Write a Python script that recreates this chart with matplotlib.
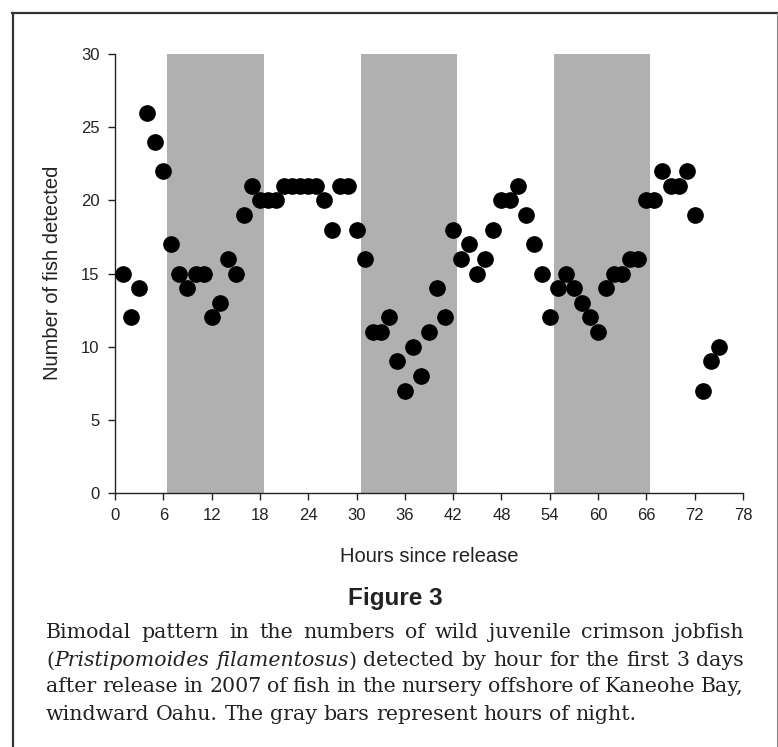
import os
import numpy as np
import matplotlib.pyplot as plt
import matplotlib.font_manager as fm
from matplotlib.lines import Line2D

# Daten: Anzahl detektierter Fische pro Stunde nach Freilassung
hours = list(range(1, 76))
fish = [15, 12, 14, 26, 24, 22, 17, 15, 14, 15,
        15, 12, 13, 16, 15, 19, 21, 20, 20, 20,
        21, 21, 21, 21, 21, 20, 18, 21, 21, 18,
        16, 11, 11, 12, 9, 7, 10, 8, 11, 14,
        12, 18, 16, 17, 15, 16, 18, 20, 20, 21,
        19, 17, 15, 12, 14, 15, 14, 13, 12, 11,
        14, 15, 15, 16, 16, 20, 20, 22, 21, 21,
        22, 19, 7, 9, 10]

# Nachtstunden (graue Balken)
night_start = [6.5, 30.5, 54.5]
night_end = [18.5, 42.5, 66.5]

x_ticks = list(range(0, 79, 6))
y_ticks = list(range(0, 31, 5))

caption_lines = [
    [("Bimodal pattern in the numbers of wild juvenile crimson jobfish", "normal")],
    [("(", "normal"), ("Pristipomoides filamentosus", "italic"),
     (") detected by hour for the first 3 days", "normal")],
    [("after release in 2007 of fish in the nursery offshore of Kaneohe Bay,", "normal")],
    [("windward Oahu. The gray bars represent hours of night.", "normal")],
]


def font(fname, fallback, size, weight="normal"):
    """Schriftdatei direkt suchen (sonst landet man evtl. bei 'Narrow')."""
    for f in fm.findSystemFonts():
        if os.path.basename(f).lower() == fname.lower():
            return fm.FontProperties(fname=f, size=size)
    return fm.FontProperties(family=fallback, size=size, weight=weight)


fp_tick = font("LiberationSans-Regular.ttf", "DejaVu Sans", 12)
fp_lab = font("LiberationSans-Regular.ttf", "DejaVu Sans", 14.5)
fp_fig = font("LiberationSans-Bold.ttf", "DejaVu Sans", 17.5, "bold")

W, H = 778, 747
fig = plt.figure(figsize=(W / 100, H / 100), dpi=100)
ax = fig.add_axes([115 / W, 1 - 493 / H, (743 - 115) / W, (493 - 54) / H])

for a, b in zip(night_start, night_end):
    ax.axvspan(a, b, ymin=0, ymax=1, color="#b0b0b0", lw=0, zorder=0)

ax.plot(hours, fish, "o", color="black", ms=11, zorder=3, clip_on=False)

ax.set_xlim(0, 78)
ax.set_ylim(0, 30)
ax.set_xticks(x_ticks)
ax.set_yticks(y_ticks)
ax.set_xticklabels([str(v) for v in x_ticks], fontproperties=fp_tick)
ax.set_yticklabels([str(v) for v in y_ticks], fontproperties=fp_tick)
for s in ("top", "right"):
    ax.spines[s].set_visible(False)
for s in ("left", "bottom"):
    ax.spines[s].set_linewidth(1.0)
    ax.spines[s].set_color("#222222")
ax.tick_params(direction="out", length=5, width=1.0, color="#222222",
               labelcolor="#222222", pad=6)

fig.text(53 / W, 1 - 273 / H, "Number of fish detected", rotation=90,
         ha="center", va="center", fontproperties=fp_lab, color="#222222")
fig.text(429 / W, 1 - 557 / H, "Hours since release", ha="center", va="center",
         fontproperties=fp_lab, color="#222222")
fig.text(395 / W, 1 - 598 / H, "Figure 3", ha="center", va="center",
         fontproperties=fp_fig, color="#222222")

# Rahmen
fig.add_artist(Line2D([12 / W, 1], [1 - 12.5 / H] * 2, color="#333333", lw=1.6))
fig.add_artist(Line2D([12.5 / W] * 2, [0, 1 - 12.5 / H], color="#333333", lw=1.6))
fig.add_artist(Line2D([776.5 / W] * 2, [0, 1 - 12.5 / H], color="#888888", lw=0.8))

# Bildunterschrift im Blocksatz
fig.canvas.draw()
renderer = fig.canvas.get_renderer()
left_px, right_px = 46, 744
line_y = [633, 661, 687, 714]
cap_kw = dict(fontsize=14.8, family="DejaVu Serif", color="#222222", va="center")


def width_of(txt, style):
    t = fig.text(0, 0, txt, style=style, **cap_kw)
    w = t.get_window_extent(renderer).width
    t.remove()
    return w


space = width_of("a b", "normal") - width_of("ab", "normal")

for i, segs in enumerate(caption_lines):
    words = []
    for txt, style in segs:
        parts = txt.split(" ")
        for j, p in enumerate(parts):
            if p == "":
                continue
            glue = (j == 0 and words and not txt.startswith(" "))
            words.append([p, style, glue])
    groups = []
    for p, style, glue in words:
        if glue and groups:
            groups[-1].append((p, style))
        else:
            groups.append([(p, style)])
    widths = [sum(width_of(p, s) for p, s in g) for g in groups]
    if i == len(caption_lines) - 1:
        gap = space
    else:
        gap = (right_px - left_px - sum(widths)) / (len(groups) - 1)
    x = left_px
    for g, w in zip(groups, widths):
        xx = x
        for p, s in g:
            fig.text(xx / W, 1 - line_y[i] / H, p, style=s, ha="left", **cap_kw)
            xx += width_of(p, s)
        x += w + gap

fig.savefig("out.png", dpi=100)
